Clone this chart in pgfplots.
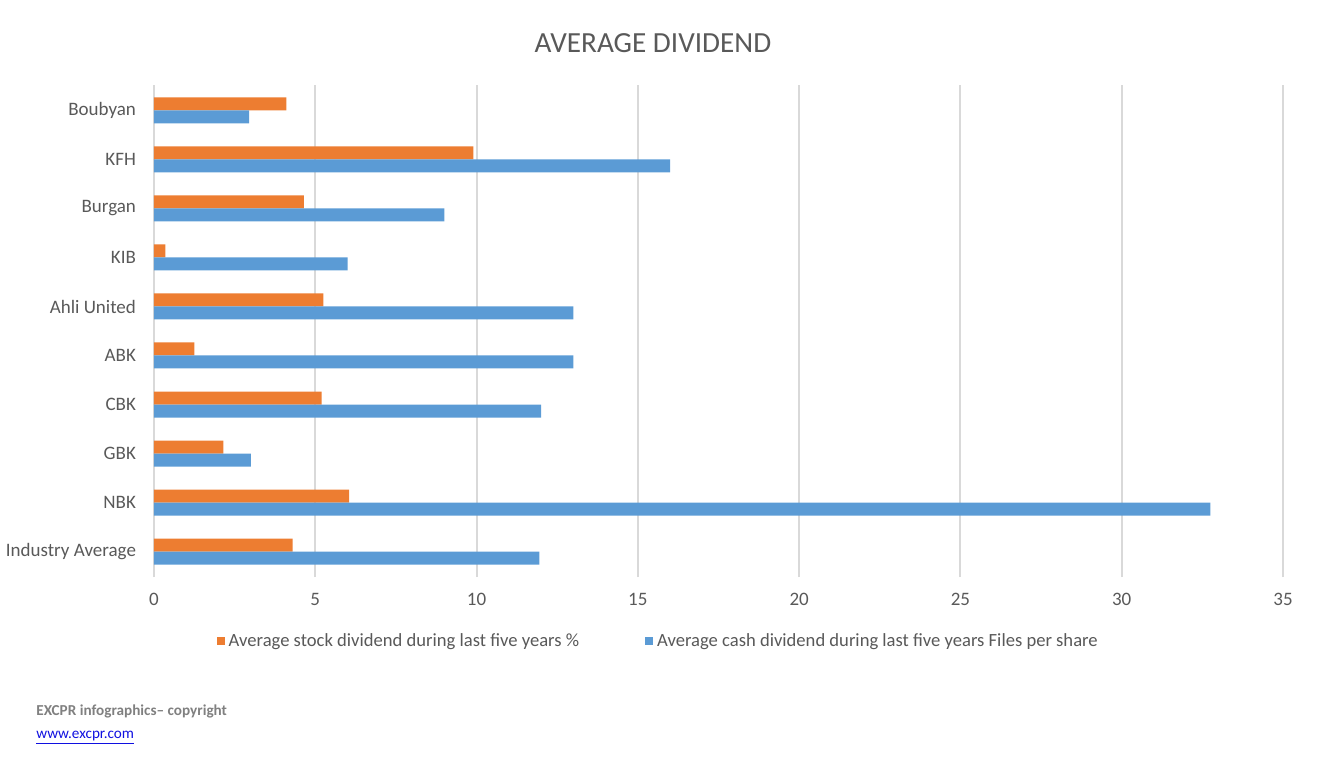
\documentclass[border=0pt]{standalone}
\usepackage{pgfplots}
\pgfplotsset{compat=1.18}
\usepackage{fontspec}
\setmainfont{Carlito}
\definecolor{txt}{HTML}{595959}
\definecolor{gridc}{HTML}{D9D9D9}
\definecolor{orng}{HTML}{ED7D31}
\definecolor{blu}{HTML}{5B9BD5}
\definecolor{foot}{HTML}{808080}
\definecolor{link}{HTML}{1010E0}

% categories bottom (0) to top (9)
\pgfplotstableread{
y stock cash
0 4.30 11.95
1 6.05 32.75
2 2.15 3.00
3 5.20 12.00
4 1.25 13.00
5 5.25 13.00
6 0.35 6.00
7 4.65 9.00
8 9.90 16.00
9 4.10 2.95
}\divtable

\begin{document}
\begin{tikzpicture}
\path[use as bounding box] (0,0) rectangle (661.5pt,380.5pt);
\begin{axis}[
  at={(77pt,92pt)}, anchor=south west,
  scale only axis, width=564.5pt, height=246pt,
  xbar, bar width=6.5pt,
  xmin=0, xmax=35, ymin=-0.52, ymax=9.52,
  xtick={0,5,...,35},
  ytick={0,...,9},
  yticklabels={Industry Average, NBK, GBK, CBK, ABK, Ahli United, KIB, Burgan, KFH, Boubyan},
  axis line style={draw=none},
  major tick length=0pt,
  xmajorgrids, grid style={gridc, line width=1pt},
  tick label style={font=\fontsize{9.5}{11}\selectfont, text=txt},
  /pgf/number format/assume math mode=true,
  xticklabel style={yshift=-4.8pt},
  yticklabel style={xshift=-5.5pt},
  legend columns=2,
  legend style={at={(0.4475,-0.131)}, anchor=center, draw=none,
    font=\fontsize{9.3}{11}\selectfont, text=txt,
    /tikz/every even column/.append style={column sep=31pt}},
  legend image code/.code={\fill[#1] (0pt,-2pt) rectangle (4pt,2pt);},
]
\addplot[fill=orng, draw=none, bar shift=3.25pt] table[x=stock, y=y] {\divtable};
\addlegendentry{Average stock dividend during last five years \%}
\addplot[fill=blu, draw=none, bar shift=-3.25pt] table[x=cash, y=y] {\divtable};
\addlegendentry{Average cash dividend during last five years Files per share}
\end{axis}
\node[text=txt, font=\fontsize{14.6}{17}\selectfont] at (326.5pt,359pt) {AVERAGE DIVIDEND};
\node[anchor=west, inner sep=0pt, text=foot, font=\bfseries\fontsize{7.6}{9}\selectfont] at (18pt,25pt) {EXCPR infographics– copyright};
\node[anchor=west, inner sep=0pt, text=link, font=\fontsize{7.6}{9}\selectfont] at (18pt,11.5pt) {\underline{www.excpr.com}};
\end{tikzpicture}
\end{document}
